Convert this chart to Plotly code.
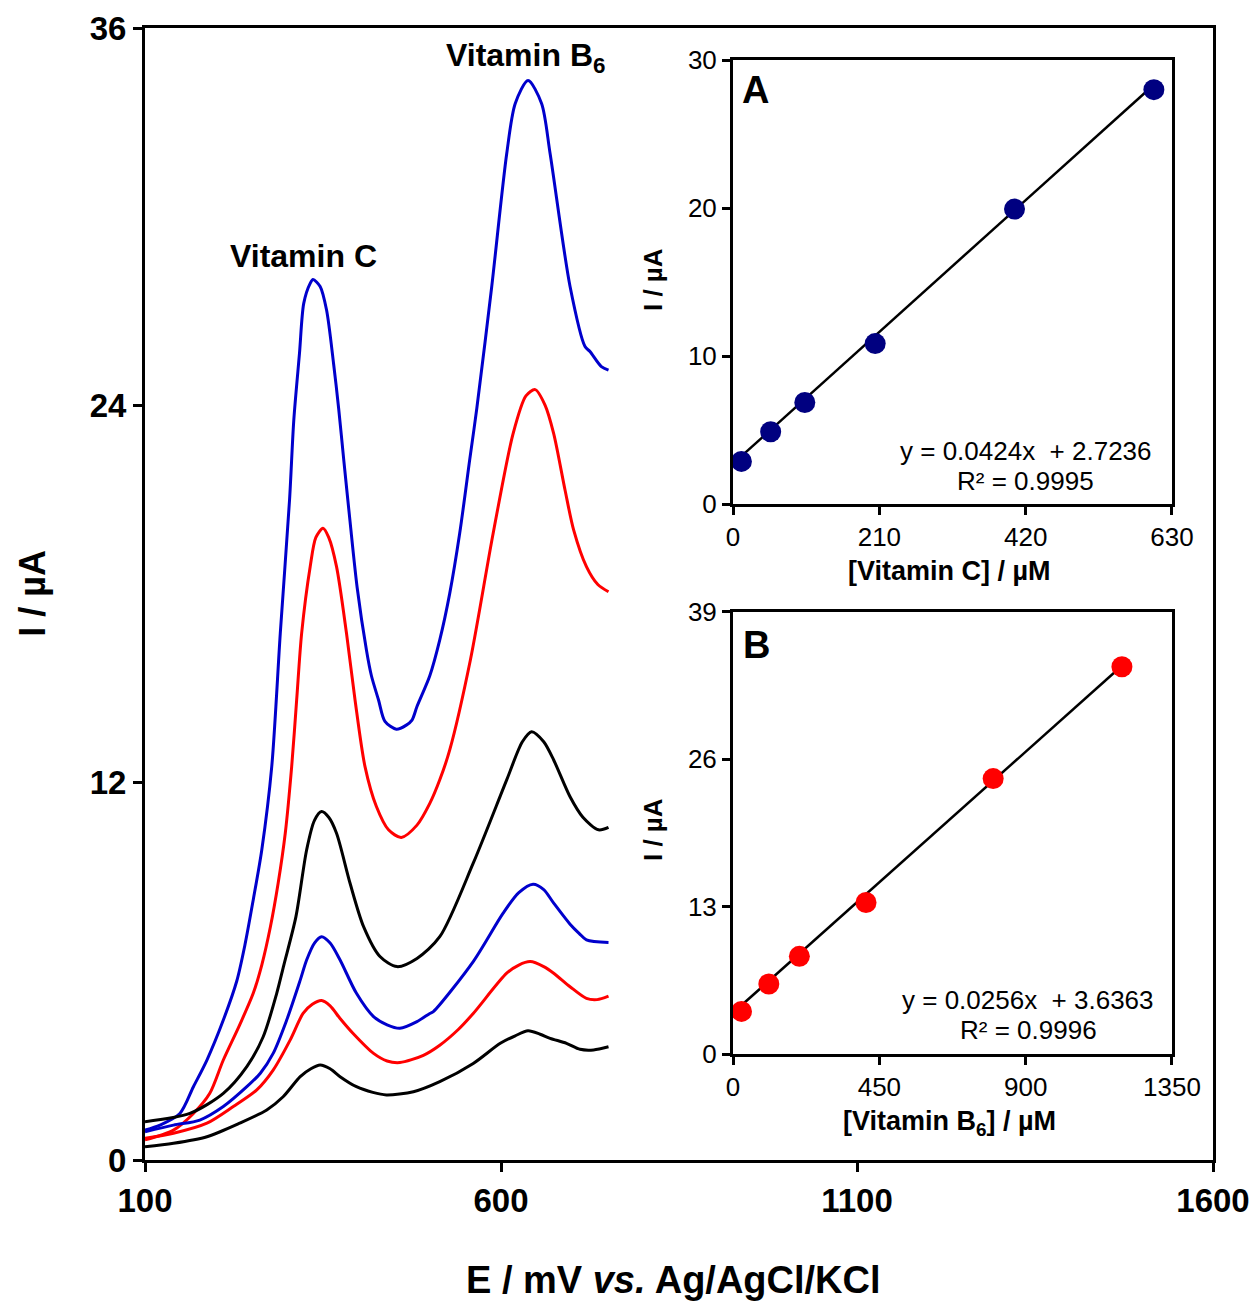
import plotly.graph_objects as go

FONT = "Liberation Sans, Arial, sans-serif"

# ---------------- main DPV curves (E / mV, I / uA) ----------------
E_blue1 = [100,121,149,168,187,210,229,240,252,264,278,290,303,309,317,323,332,336,346,355,365,372,379,388,398,411,418,428,437,453,467,475,482,500,514,528,542,556,566,587,608,620,638,657,669,697,718,725,741,751]
I_blue1 = [0.95,1.11,1.48,2.33,3.18,4.45,5.7,6.8,8.27,9.86,12.51,16.75,20.99,23.54,25.66,27.25,27.88,28.0,27.78,27.03,25.3,23.9,22.3,20.3,18.2,16.22,15.4,14.63,13.95,13.7,13.83,13.99,14.42,15.4,16.54,18.02,19.93,22.26,23.9,27.78,32.0,33.6,34.33,33.6,32.0,27.78,25.87,25.71,25.23,25.12]

E_red1 = [100,140,168,191,210,233,252,264,276,287,297,306,313,320,332,340,350,358,369,383,395,409,425,442,460,482,500,514,528,557,589,617,635,648,662,674,690,702,720,736,751]
I_red1 = [0.64,0.95,1.48,2.12,3.18,4.3,5.3,6.2,7.4,8.8,10.39,12.51,14.63,16.75,18.87,19.8,20.09,19.8,18.87,16.75,14.63,12.51,11.24,10.5,10.26,10.65,11.34,12.09,13.04,15.9,19.93,23.1,24.3,24.5,24.0,23.1,21.3,20.04,18.87,18.3,18.07]

E_black1 = [100,163,210,243,266,285,295,312,327,338,348,358,369,388,407,430,454,482,514,561,608,630,643,660,674,697,715,737,751]
I_black1 = [1.22,1.48,2.12,2.97,3.92,5.3,6.2,7.74,9.86,10.8,11.08,10.9,10.39,8.8,7.42,6.47,6.15,6.41,7.1,9.44,12.09,13.3,13.62,13.3,12.72,11.55,10.9,10.5,10.58]

E_blue2 = [100,140,177,210,243,262,280,299,318,327,338,348,360,374,397,421,440,458,482,500,505,561,603,625,645,660,674,697,710,720,751]
I_blue2 = [0.9,1.11,1.27,1.7,2.33,2.76,3.39,4.45,5.72,6.36,6.9,7.1,6.9,6.36,5.3,4.56,4.3,4.19,4.4,4.66,4.72,6.31,7.85,8.5,8.77,8.6,8.17,7.5,7.2,7.0,6.92]

E_red2 = [100,140,187,224,257,280,304,322,335,348,360,374,392,421,440,458,491,514,540,561,608,625,641,660,674,697,720,735,751]
I_red2 = [0.69,0.85,1.17,1.7,2.23,2.86,3.82,4.66,4.95,5.07,4.9,4.5,4.03,3.39,3.15,3.10,3.33,3.65,4.15,4.66,5.94,6.2,6.31,6.15,5.94,5.51,5.14,5.1,5.21]

E_black2 = [100,140,187,233,271,294,318,333,346,360,374,397,420,439,477,514,561,599,620,638,655,669,692,711,730,751]
I_black2 = [0.42,0.53,0.74,1.17,1.59,2.01,2.65,2.9,3.02,2.9,2.65,2.33,2.15,2.07,2.17,2.49,3.07,3.71,3.95,4.11,4.0,3.87,3.71,3.52,3.5,3.6]

# ---------------- calibration insets ----------------
conc_C = [12, 54, 103, 204, 404, 604]
I_C = [2.88, 4.88, 6.86, 10.84, 19.93, 28.0]
slope_C, icpt_C = 0.0424, 2.7236

conc_B6 = [26, 110, 204, 409, 800, 1196]
I_B6 = [3.76, 6.18, 8.62, 13.37, 24.3, 34.17]
slope_B6, icpt_B6 = 0.0256, 3.6363

main_ticks_x = [100, 600, 1100, 1600]
main_ticks_y = [0, 12, 24, 36]
A_ticks_x = [0, 210, 420, 630]
A_ticks_y = [0, 10, 20, 30]
B_ticks_x = [0, 450, 900, 1350]
B_ticks_y = [0, 13, 26, 39]

BLUE = "#0000CC"
RED = "#FF0000"
BLACK = "#000000"
NAVY = "#000080"

fig = go.Figure()

curves = [
    (E_blue1, I_blue1, BLUE), (E_red1, I_red1, RED), (E_black1, I_black1, BLACK),
    (E_blue2, I_blue2, BLUE), (E_red2, I_red2, RED), (E_black2, I_black2, BLACK),
]
for ex, iy, col in curves:
    fig.add_trace(go.Scatter(x=ex, y=iy, mode="lines",
                             line=dict(color=col, width=3, shape="spline", smoothing=0.8),
                             showlegend=False, xaxis="x", yaxis="y"))

# inset A
fitA_x = [conc_C[0], conc_C[-1]]
fig.add_trace(go.Scatter(x=fitA_x, y=[slope_C * v + icpt_C for v in fitA_x], mode="lines",
                         line=dict(color=BLACK, width=2.5), showlegend=False,
                         xaxis="x2", yaxis="y2"))
fig.add_trace(go.Scatter(x=conc_C, y=I_C, mode="markers",
                         marker=dict(color=NAVY, size=21), showlegend=False,
                         xaxis="x2", yaxis="y2", cliponaxis=False))
# inset B
fitB_x = [conc_B6[0], conc_B6[-1]]
fig.add_trace(go.Scatter(x=fitB_x, y=[slope_B6 * v + icpt_B6 for v in fitB_x], mode="lines",
                         line=dict(color=BLACK, width=2.5), showlegend=False,
                         xaxis="x3", yaxis="y3"))
fig.add_trace(go.Scatter(x=conc_B6, y=I_B6, mode="markers",
                         marker=dict(color=RED, size=21), showlegend=False,
                         xaxis="x3", yaxis="y3", cliponaxis=False))

def ax(rng, tv, domain, anchor, fsize, bold, ticklen):
    return dict(range=rng, tickvals=tv, ticktext=[str(v) for v in tv], domain=domain, anchor=anchor,
                automargin=False, ticklabeloverflow="allow",
                showline=True, linecolor=BLACK, linewidth=3, mirror=True,
                ticks="outside", ticklen=ticklen, tickwidth=3, tickcolor=BLACK,
                showgrid=False, zeroline=False,
                tickfont=dict(family=FONT, size=fsize, color=BLACK, weight=700 if bold else 400))

xA = [0.5506, 0.9616]
yA = [0.5795, 0.9717]
yB = [0.0936, 0.4841]

fig.update_layout(
    width=1249, height=1301, autosize=False,
    margin=dict(l=145, r=36, t=28, b=141, autoexpand=False),
    paper_bgcolor="white", plot_bgcolor="white",
    xaxis=ax([100, 1600], main_ticks_x, [0, 1], "y", 33, True, 9),
    yaxis=ax([0, 36], main_ticks_y, [0, 1], "x", 33, True, 9),
    xaxis2=ax([0, 630], A_ticks_x, xA, "y2", 26, False, 8),
    yaxis2=ax([0, 30], A_ticks_y, yA, "x2", 26, False, 8),
    xaxis3=ax([0, 1350], B_ticks_x, xA, "y3", 26, False, 8),
    yaxis3=ax([0, 39], B_ticks_y, yB, "x3", 26, False, 8),
)

def note(text, x, y, size, bold=True, angle=0, xref="paper", yref="paper", xanchor="center"):
    fig.add_annotation(text=text, x=x, y=y, xref=xref, yref=yref, showarrow=False,
                       xanchor=xanchor, yanchor="middle", textangle=angle,
                       font=dict(family=FONT, size=size, color=BLACK, weight=700 if bold else 400))

note("Vitamin C", 322, 28.75, 32, xref="x", yref="y")
note("Vitamin B<sub>6</sub>", 634, 35.05, 32, xref="x", yref="y")
note("E / mV <i>vs.</i> Ag/AgCl/KCl", 0.4953, -0.106, 38)
note("I / µA", -0.105, 0.5009, 36, angle=-90)

note("A", 0.5712, 0.9452, 38)
note("B", 0.5730, 0.4549, 38)
note("[Vitamin C] / µM", 0.7537, 0.5203, 27)
note("[Vitamin B<sub>6</sub>] / µM", 0.7537, 0.0327, 27)
note("I / µA", 0.4757, 0.7774, 26, angle=-90)
note("I / µA", 0.4757, 0.2915, 26, angle=-90)

note("y = 0.0424x  + 2.7236", 0.8245, 0.6263, 26, bold=False)
note("R² = 0.9995", 0.8245, 0.5998, 26, bold=False)
note("y = 0.0256x  + 3.6363", 0.8265, 0.1413, 26, bold=False)
note("R² = 0.9996", 0.827, 0.1148, 26, bold=False)

# remove the default page margin so the figure sits at the window's top-left corner
fig.write_html("out.html",
               config={"displayModeBar": False},
               post_script="document.body.style.margin='0';document.body.style.overflow='hidden';")
